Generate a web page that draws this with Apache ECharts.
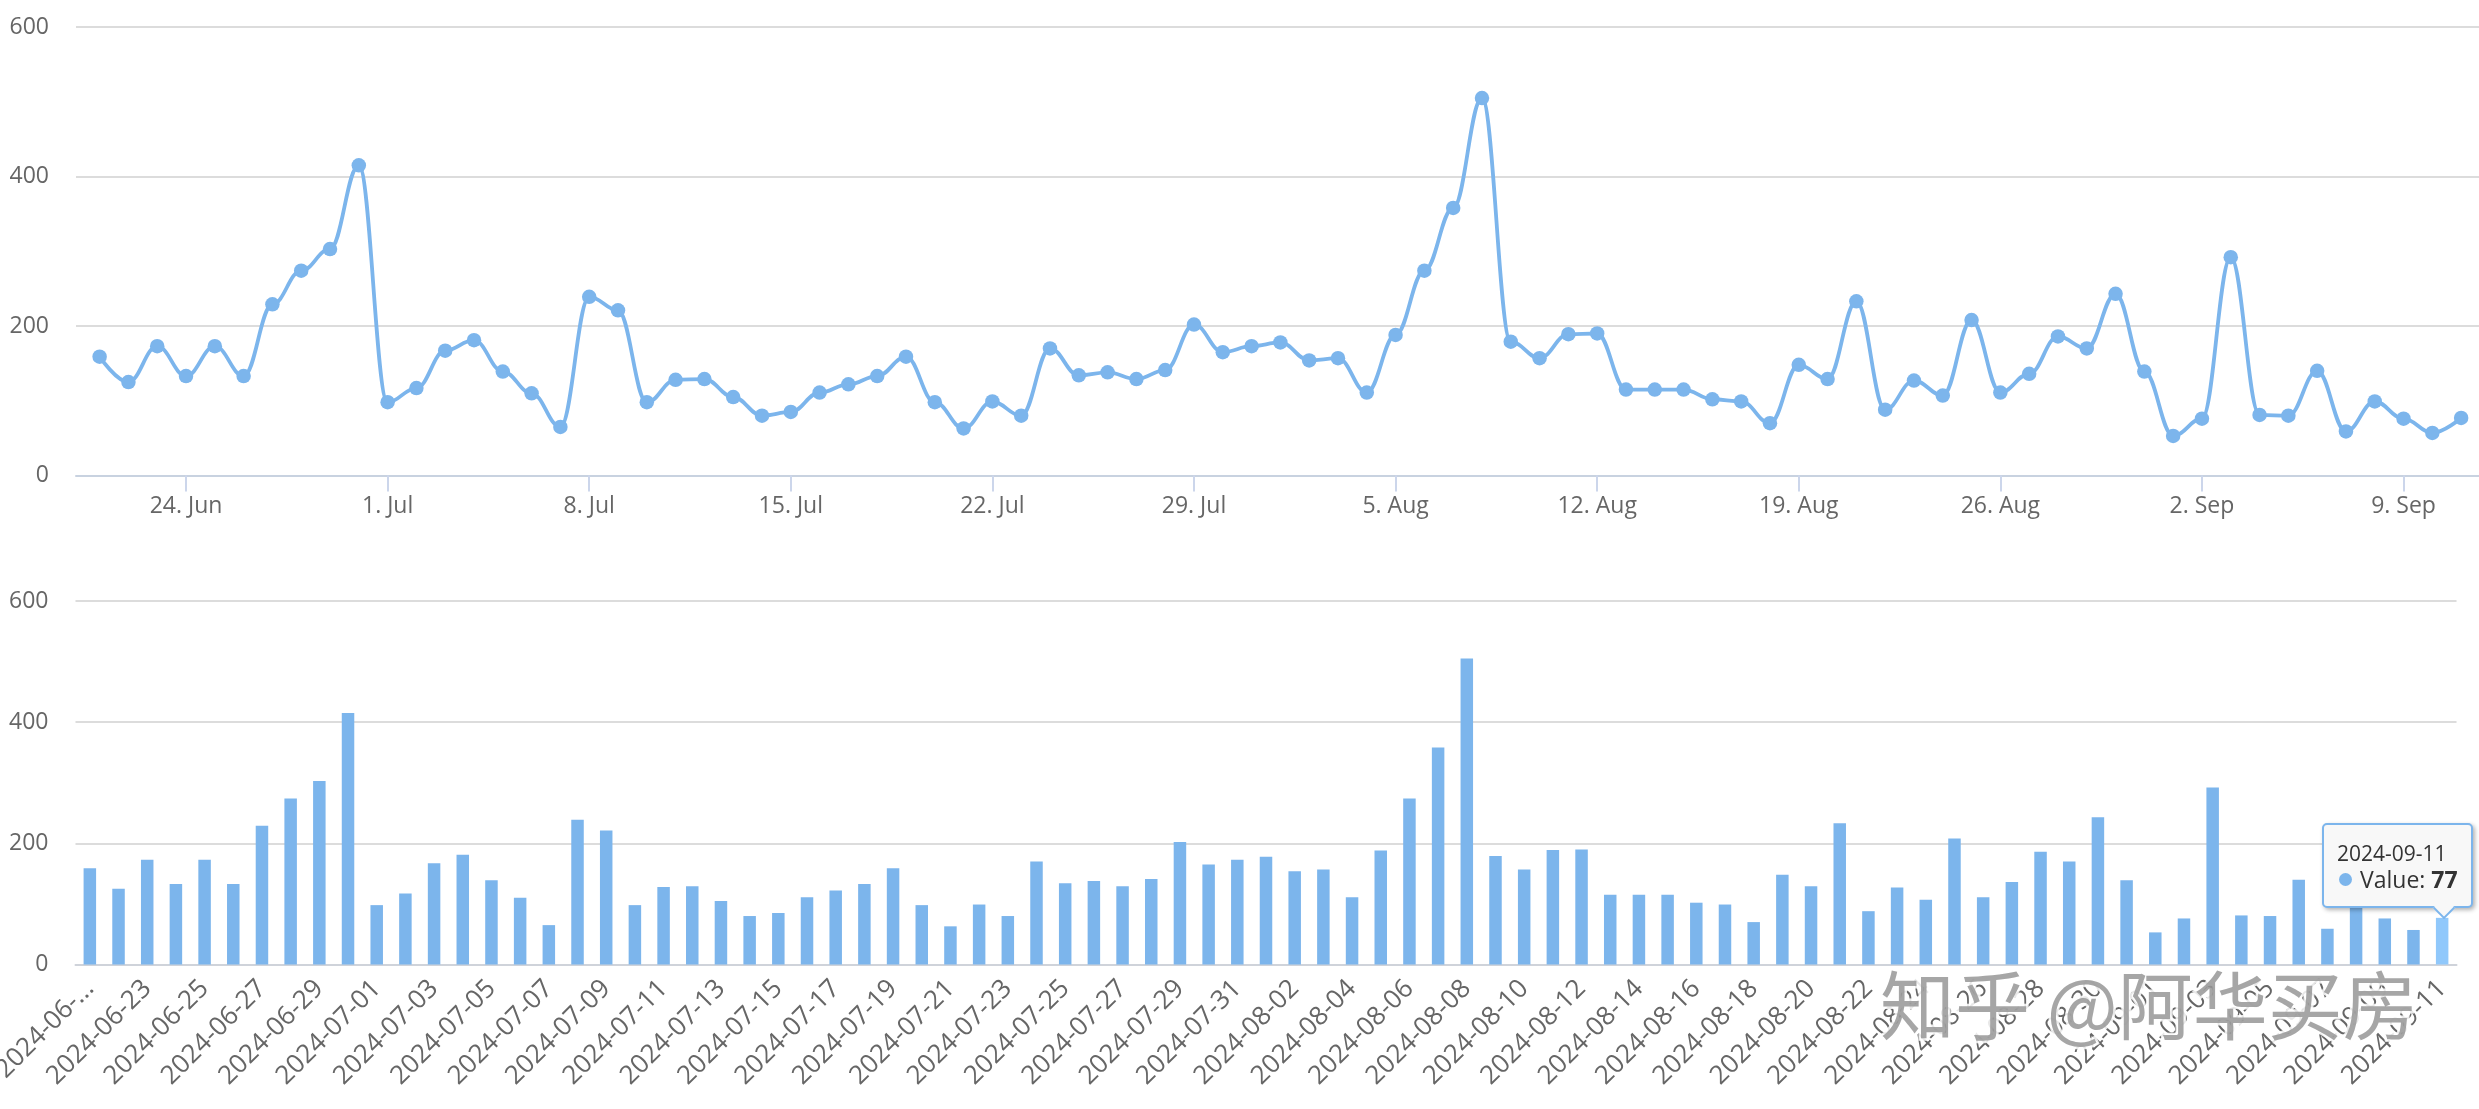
<!DOCTYPE html>
<html>
<head>
<meta charset="utf-8">
<title>chart</title>
<style>
html,body{margin:0;padding:0;background:#fff;}
#main{width:2479px;height:1109px;}
</style>
<script src="https://cdn.jsdelivr.net/npm/echarts@6/dist/echarts.min.js"></script>
</head>
<body>
<div id="main"></div>
<script>
//dates, one per point
var junDays=['2024-06-21','2024-06-22','2024-06-23','2024-06-24','2024-06-25','2024-06-26','2024-06-27','2024-06-28','2024-06-29','2024-06-30'];
var julDays=['2024-07-01','2024-07-02','2024-07-03','2024-07-04','2024-07-05','2024-07-06','2024-07-07','2024-07-08','2024-07-09','2024-07-10','2024-07-11','2024-07-12','2024-07-13','2024-07-14','2024-07-15','2024-07-16','2024-07-17','2024-07-18','2024-07-19','2024-07-20','2024-07-21','2024-07-22','2024-07-23','2024-07-24','2024-07-25','2024-07-26','2024-07-27','2024-07-28','2024-07-29','2024-07-30','2024-07-31'];
var augDays=['2024-08-01','2024-08-02','2024-08-03','2024-08-04','2024-08-05','2024-08-06','2024-08-07','2024-08-08','2024-08-09','2024-08-10','2024-08-11','2024-08-12','2024-08-13','2024-08-14','2024-08-15','2024-08-16','2024-08-17','2024-08-18','2024-08-19','2024-08-20','2024-08-21','2024-08-22','2024-08-23','2024-08-24','2024-08-25','2024-08-26','2024-08-27','2024-08-28','2024-08-29','2024-08-30','2024-08-31'];
var sepDays=['2024-09-01','2024-09-02','2024-09-03','2024-09-04','2024-09-05','2024-09-06','2024-09-07','2024-09-08','2024-09-09','2024-09-10','2024-09-11'];
var categories=junDays.concat(julDays,augDays,sepDays);

//values
var junVals=[159,125,173,133,173,133,229,274,303,415];
var julVals=[98,117,167,181,139,110,65,239,221,98,128,129,105,80,85,111,122,133,159,98,63,99,80,170,134,138,129,141,202,165,173];
var augVals=[178,154,157,111,188,274,358,505,179,157,189,190,115,115,115,102,99,70,148,129,233,88,127,107,208,111,136,186,170,243,139];
var sepVals=[53,76,292,81,80,140,59,99,76,57,77];
var values=junVals.concat(julVals,augVals,sepVals);

//weekly ticks of the top chart
var weekDates=['2024-06-24','2024-07-01','2024-07-08','2024-07-15','2024-07-22','2024-07-29','2024-08-05','2024-08-12','2024-08-19','2024-08-26','2024-09-02','2024-09-09'];
var weekLabels=['24. Jun','1. Jul','8. Jul','15. Jul','22. Jul','29. Jul','5. Aug','12. Aug','19. Aug','26. Aug','2. Sep','9. Sep'];
var yTicks=[0,200,400,600];

var blue='#7cb5ec';
var labelColor='#666666';
var fontName='"Open Sans"';

//top chart runs on day numbers, counted from the first date
var linePoints=[];
for (var i = 0; i < categories.length; i++) {
	linePoints.push([i,values[i]]);
}
var weekTicks=[];
for (var i = 0; i < weekDates.length; i++) {
	weekTicks.push(categories.indexOf(weekDates[i]));
}
var lastIndex=categories.length-1;

function yAxis(gridIndex) {
	return {
		type:'value',
		gridIndex:gridIndex,
		min:yTicks[0],
		max:yTicks[yTicks.length-1],
		interval:yTicks[1]-yTicks[0],
		axisLine:{show:false},
		axisTick:{show:false},
		axisLabel:{color:labelColor,fontSize:23,fontFamily:fontName,margin:27,padding:[0,0,4,0]},
		splitLine:{lineStyle:{color:'#dcdcdc',width:2}}
	};
}

var myChart=echarts.init(document.getElementById('main'),null,{renderer:'canvas'});
var option={
	animation:false,
	backgroundColor:'#fff',
	grid:[
		{left:76,right:0,top:27,height:448.5,outerBoundsMode:'none'},
		{left:75.5,width:2381,top:601,height:363.5,outerBoundsMode:'none'}
	],
	xAxis:[
		{
			type:'value',
			gridIndex:0,
			min:-0.82,
			max:lastIndex+0.62,
			axisLine:{onZero:false,lineStyle:{color:'#c8d2e0',width:2}},
			axisTick:{length:16,lineStyle:{color:'#ccd6eb',width:2},customValues:weekTicks},
			axisLabel:{
				color:labelColor,fontSize:23,fontFamily:fontName,margin:19,
				customValues:weekTicks,
				formatter:function(value){
					return weekLabels[weekTicks.indexOf(value)];
				}
			},
			splitLine:{show:false}
		},
		{
			type:'category',
			gridIndex:1,
			data:categories,
			axisLine:{lineStyle:{color:'#cfd3da',width:2}},
			axisTick:{alignWithLabel:true,interval:1,length:16,lineStyle:{color:'#ccd6eb',width:2}},
			axisLabel:{
				color:labelColor,fontSize:26,fontFamily:fontName,margin:20,rotate:45,interval:1,
				formatter:function(value,index){
					return index==0 ? '2024-06-...' : value;
				}
			}
		}
	],
	yAxis:[yAxis(0),yAxis(1)],
	tooltip:{
		trigger:'item',
		triggerOn:'none',
		alwaysShowContent:true,
		transitionDuration:0,
		padding:0,
		borderWidth:0,
		backgroundColor:'transparent',
		extraCssText:'box-shadow:none;',
		position:function(){
			return [2322,823];
		},
		formatter:function(p){
			return '<div style="position:relative;box-sizing:border-box;width:151px;height:85px;background:#f8f8f8;border:2px solid '+blue+';border-radius:5px;box-shadow:2px 2px 4px rgba(0,0,0,.3);font-family:\'Open Sans\';color:#333;">'
				+'<div style="position:absolute;left:13px;top:16px;font-size:21px;line-height:24px;">'+p.name+'</div>'
				+'<div style="position:absolute;left:15px;top:48px;width:13px;height:13px;border-radius:50%;background:'+blue+';"></div>'
				+'<div style="position:absolute;left:36px;top:39px;font-size:23px;line-height:30px;white-space:nowrap;">Value: <b>'+p.value+'</b></div>'
				+'<div style="position:absolute;left:112px;top:75px;width:14px;height:14px;background:#f8f8f8;border-right:2px solid '+blue+';border-bottom:2px solid '+blue+';transform:rotate(45deg);"></div>'
				+'</div>';
		}
	},
	series:[
		{
			type:'line',
			xAxisIndex:0,
			yAxisIndex:0,
			data:linePoints,
			smooth:0.4,
			smoothMonotone:'x',
			symbol:'circle',
			symbolSize:14.5,
			showAllSymbol:true,
			lineStyle:{color:blue,width:3.8},
			itemStyle:{color:blue},
			tooltip:{show:false}
		},
		{
			type:'bar',
			xAxisIndex:1,
			yAxisIndex:1,
			data:values,
			barWidth:12.5,
			itemStyle:{
				color:function(p){
					return p.dataIndex==lastIndex ? '#90c8fb' : blue;
				}
			}
		}
	],
	graphic:[
		{
			type:'text',
			z:100,
			x:1880,
			y:968,
			style:{
				text:'知乎 @阿华买房',
				font:'75px "Noto Sans CJK SC"',
				fill:'rgba(150,150,150,.85)',
				stroke:'rgba(255,255,255,.85)',
				lineWidth:5,
				strokeFirst:true
			}
		}
	]
};
myChart.setOption(option);
//show the tooltip on the last bar
myChart.dispatchAction({type:'showTip',seriesIndex:1,dataIndex:lastIndex});
</script>
</body>
</html>
